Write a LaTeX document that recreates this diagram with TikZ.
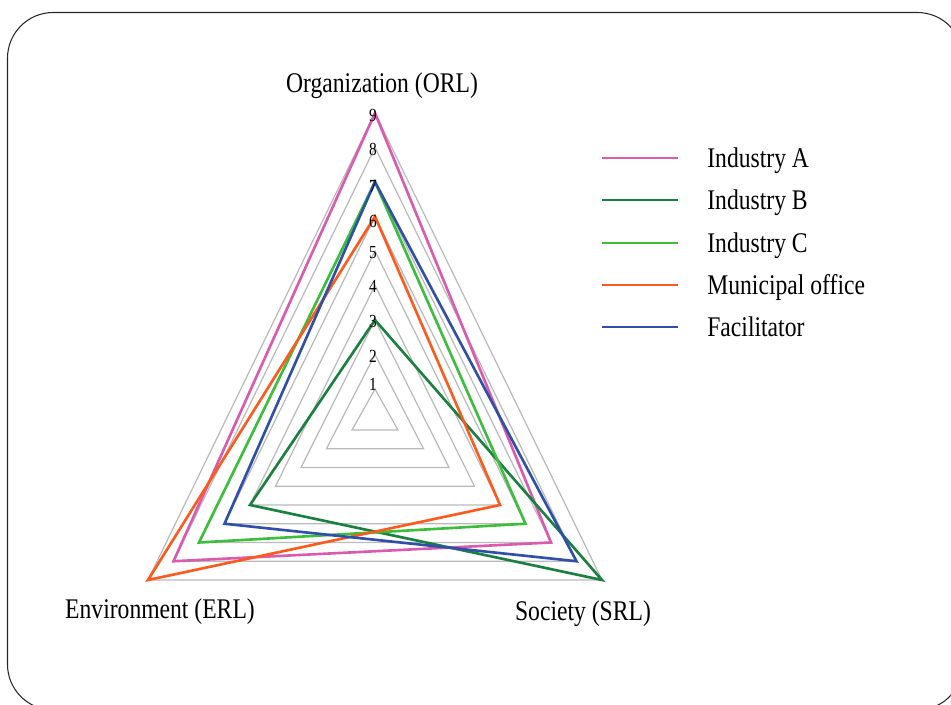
\documentclass[tikz,border=0pt]{standalone}
\usepackage{fontspec}
\setmainfont{Liberation Serif}[FakeStretch=0.83]
\begin{document}
\begin{tikzpicture}[x=0.02cm,y=-0.02cm,
  gridline/.style={draw=black!27,line width=0.7pt,line join=miter},
  series/.style={line width=1.5pt,line join=miter},
  axislabel/.style={font=\fontsize{16.2}{19}\selectfont,inner sep=0pt,anchor=base},
  legendtext/.style={font=\fontsize{16.2}{19}\selectfont,anchor=base west,inner sep=0pt},
  ticklabel/.style={font=\fontsize{10.5}{12}\selectfont,inner sep=0pt}]
\definecolor{indA}{HTML}{D95AAE}
\definecolor{indB}{HTML}{1A8040}
\definecolor{indC}{HTML}{3CBE3C}
\definecolor{muni}{HTML}{FF5A1E}
\definecolor{faci}{HTML}{2F4FA8}
\useasboundingbox (0,0) rectangle (951,705);
% frame
\draw[line width=0.6pt,black!85,rounded corners=26] (7.5,12.5) rectangle (963,710);
% radar coordinates
\newcommand\RO[1]{(375,{423.5-34.5*(#1)})}
\newcommand\RS[1]{({372.5+25.5*(#1)},{411.25+18.75*(#1)})}
\newcommand\RE[1]{({377.5-25.5*(#1)},{411.25+18.75*(#1)})}
% grid
\foreach \k in {1,...,9}{
  \draw[gridline] \RO{\k} -- \RS{\k} -- \RE{\k} -- cycle;
}
% series
\draw[series,indA] \RO{9} -- \RS{7} -- \RE{8} -- cycle;
\draw[series,indB] \RO{3} -- \RS{9} -- \RE{5} -- cycle;
\draw[series,indC] \RO{7} -- \RS{6} -- \RE{7} -- cycle;
\draw[series,muni] \RO{6} -- \RS{5} -- \RE{9} -- cycle;
\draw[series,faci] \RO{7} -- \RS{8} -- \RE{6} -- cycle;
% tick labels
\node[ticklabel] (t9) at (373,115) {9};
\node[ticklabel] (t8) at (373,149) {8};
\node[ticklabel] (t7) at (373,186) {7};
\node[ticklabel] (t6) at (373,221) {6};
\node[ticklabel] (t5) at (373,253) {5};
\node[ticklabel] (t4) at (373,286) {4};
\node[ticklabel] (t3) at (373,321) {3};
\node[ticklabel] (t2) at (373,356) {2};
\node[ticklabel] (t1) at (373,384) {1};
% axis labels
\node[axislabel] (orl) at (382,93) {Organization (ORL)};
\node[axislabel] (erl) at (160,619) {Environment (ERL)};
\node[axislabel] (srl) at (583,621) {Society (SRL)};
% legend
\coordinate (la1) at (602,158); \coordinate (la2) at (678,158);
\coordinate (lb1) at (602,200); \coordinate (lb2) at (678,200);
\coordinate (lc1) at (602,243); \coordinate (lc2) at (678,243);
\coordinate (ld1) at (602,285); \coordinate (ld2) at (678,285);
\coordinate (le1) at (602,327); \coordinate (le2) at (678,327);
\draw[series,indA] (la1) -- (la2);
\draw[series,indB] (lb1) -- (lb2);
\draw[series,indC] (lc1) -- (lc2);
\draw[series,muni] (ld1) -- (ld2);
\draw[series,faci] (le1) -- (le2);
\node[legendtext] (lta) at (707,167.5) {Industry A};
\node[legendtext] (ltb) at (707,209.5) {Industry B};
\node[legendtext] (ltc) at (707,252.5) {Industry C};
\node[legendtext] (ltd) at (707,294.5) {Municipal office};
\node[legendtext] (lte) at (707,336.5) {Facilitator};
\end{tikzpicture}
\end{document}
